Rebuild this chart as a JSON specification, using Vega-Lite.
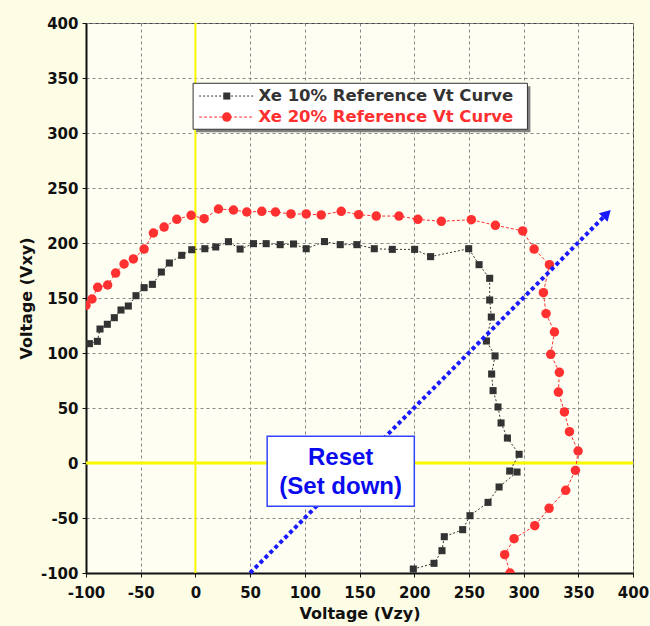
{
  "$schema": "https://vega.github.io/schema/vega-lite/v6.json",
  "autosize": {"type": "none"},
  "width": 547,
  "height": 550,
  "padding": {"left": 86, "top": 23, "right": 17, "bottom": 53},
  "background": "#fdfde6",
  "data": {"values": [{}]},
  "config": {
    "view": {"fill": "#fefef2", "stroke": "#444444", "strokeWidth": 1},
    "axis": {
      "labelFont": "DejaVu Sans", "labelFontWeight": "bold", "labelFontSize": 15, "labelColor": "#111111",
      "titleFont": "DejaVu Sans", "titleFontWeight": "bold", "titleFontSize": 16, "titleColor": "#111111",
      "domainColor": "#111111", "domainWidth": 2,
      "tickColor": "#111111", "tickWidth": 1,
      "grid": true,
      "gridColor": "#888888", "gridDash": [3, 3], "gridWidth": 1,
      "labelOverlap": false, "labelFlush": false
    }
  },
  "datasets": {
    "curves": [
      {"s": "Xe 10%", "i": 1, "x": -96.9, "y": 108.5},
      {"s": "Xe 10%", "i": 2, "x": -89.6, "y": 110.6},
      {"s": "Xe 10%", "i": 3, "x": -87.2, "y": 121.8},
      {"s": "Xe 10%", "i": 4, "x": -80.5, "y": 126.1},
      {"s": "Xe 10%", "i": 5, "x": -74.1, "y": 132.1},
      {"s": "Xe 10%", "i": 6, "x": -68.0, "y": 139.1},
      {"s": "Xe 10%", "i": 7, "x": -61.3, "y": 142.7},
      {"s": "Xe 10%", "i": 8, "x": -54.3, "y": 152.1},
      {"s": "Xe 10%", "i": 9, "x": -46.9, "y": 159.4},
      {"s": "Xe 10%", "i": 10, "x": -39.3, "y": 162.4},
      {"s": "Xe 10%", "i": 11, "x": -31.1, "y": 173.6},
      {"s": "Xe 10%", "i": 12, "x": -23.8, "y": 181.8},
      {"s": "Xe 10%", "i": 13, "x": -12.5, "y": 188.8},
      {"s": "Xe 10%", "i": 14, "x": -3.3, "y": 193.9},
      {"s": "Xe 10%", "i": 15, "x": 8.6, "y": 194.8},
      {"s": "Xe 10%", "i": 16, "x": 18.6, "y": 196.4},
      {"s": "Xe 10%", "i": 17, "x": 30.2, "y": 201.2},
      {"s": "Xe 10%", "i": 18, "x": 40.9, "y": 194.5},
      {"s": "Xe 10%", "i": 19, "x": 53.1, "y": 199.4},
      {"s": "Xe 10%", "i": 20, "x": 64.7, "y": 199.4},
      {"s": "Xe 10%", "i": 21, "x": 77.5, "y": 198.5},
      {"s": "Xe 10%", "i": 22, "x": 89.7, "y": 199.1},
      {"s": "Xe 10%", "i": 23, "x": 101.3, "y": 194.8},
      {"s": "Xe 10%", "i": 24, "x": 118.0, "y": 201.3},
      {"s": "Xe 10%", "i": 25, "x": 132.4, "y": 198.5},
      {"s": "Xe 10%", "i": 26, "x": 147.6, "y": 198.5},
      {"s": "Xe 10%", "i": 27, "x": 163.5, "y": 194.8},
      {"s": "Xe 10%", "i": 28, "x": 180.0, "y": 194.2},
      {"s": "Xe 10%", "i": 29, "x": 200.4, "y": 194.2},
      {"s": "Xe 10%", "i": 30, "x": 215.0, "y": 187.6},
      {"s": "Xe 10%", "i": 31, "x": 249.8, "y": 194.8},
      {"s": "Xe 10%", "i": 32, "x": 259.3, "y": 180.3},
      {"s": "Xe 10%", "i": 33, "x": 269.0, "y": 167.9},
      {"s": "Xe 10%", "i": 34, "x": 269.0, "y": 148.2},
      {"s": "Xe 10%", "i": 35, "x": 270.5, "y": 132.7},
      {"s": "Xe 10%", "i": 36, "x": 266.0, "y": 110.9},
      {"s": "Xe 10%", "i": 37, "x": 273.9, "y": 97.3},
      {"s": "Xe 10%", "i": 38, "x": 270.8, "y": 80.9},
      {"s": "Xe 10%", "i": 39, "x": 272.1, "y": 65.8},
      {"s": "Xe 10%", "i": 40, "x": 276.6, "y": 50.9},
      {"s": "Xe 10%", "i": 41, "x": 279.4, "y": 36.4},
      {"s": "Xe 10%", "i": 42, "x": 285.2, "y": 22.7},
      {"s": "Xe 10%", "i": 43, "x": 295.9, "y": 7.9},
      {"s": "Xe 10%", "i": 44, "x": 287.3, "y": -7.3},
      {"s": "Xe 10%", "i": 45, "x": 294.0, "y": -8.2},
      {"s": "Xe 10%", "i": 46, "x": 277.6, "y": -21.8},
      {"s": "Xe 10%", "i": 47, "x": 267.5, "y": -35.8},
      {"s": "Xe 10%", "i": 48, "x": 251.0, "y": -47.9},
      {"s": "Xe 10%", "i": 49, "x": 244.3, "y": -60.6},
      {"s": "Xe 10%", "i": 50, "x": 227.5, "y": -67.0},
      {"s": "Xe 10%", "i": 51, "x": 225.4, "y": -79.7},
      {"s": "Xe 10%", "i": 52, "x": 218.1, "y": -91.2},
      {"s": "Xe 10%", "i": 53, "x": 199.2, "y": -96.4},
      {"s": "Xe 20%", "i": 1, "x": -100.0, "y": 143.3},
      {"s": "Xe 20%", "i": 2, "x": -94.5, "y": 149.1},
      {"s": "Xe 20%", "i": 3, "x": -89.3, "y": 159.7},
      {"s": "Xe 20%", "i": 4, "x": -80.2, "y": 161.8},
      {"s": "Xe 20%", "i": 5, "x": -72.9, "y": 172.7},
      {"s": "Xe 20%", "i": 6, "x": -65.2, "y": 180.9},
      {"s": "Xe 20%", "i": 7, "x": -56.7, "y": 185.5},
      {"s": "Xe 20%", "i": 8, "x": -46.9, "y": 194.5},
      {"s": "Xe 20%", "i": 9, "x": -38.4, "y": 209.1},
      {"s": "Xe 20%", "i": 10, "x": -28.6, "y": 214.5},
      {"s": "Xe 20%", "i": 11, "x": -17.0, "y": 221.5},
      {"s": "Xe 20%", "i": 12, "x": -3.9, "y": 225.2},
      {"s": "Xe 20%", "i": 13, "x": 8.0, "y": 222.1},
      {"s": "Xe 20%", "i": 14, "x": 21.1, "y": 230.9},
      {"s": "Xe 20%", "i": 15, "x": 34.8, "y": 230.0},
      {"s": "Xe 20%", "i": 16, "x": 47.0, "y": 228.2},
      {"s": "Xe 20%", "i": 17, "x": 60.7, "y": 228.8},
      {"s": "Xe 20%", "i": 18, "x": 73.2, "y": 228.2},
      {"s": "Xe 20%", "i": 19, "x": 87.3, "y": 226.4},
      {"s": "Xe 20%", "i": 20, "x": 101.3, "y": 226.4},
      {"s": "Xe 20%", "i": 21, "x": 115.0, "y": 225.5},
      {"s": "Xe 20%", "i": 22, "x": 133.3, "y": 228.8},
      {"s": "Xe 20%", "i": 23, "x": 149.2, "y": 225.8},
      {"s": "Xe 20%", "i": 24, "x": 165.3, "y": 224.5},
      {"s": "Xe 20%", "i": 25, "x": 186.1, "y": 224.5},
      {"s": "Xe 20%", "i": 26, "x": 203.4, "y": 221.5},
      {"s": "Xe 20%", "i": 27, "x": 224.8, "y": 219.7},
      {"s": "Xe 20%", "i": 28, "x": 252.2, "y": 221.2},
      {"s": "Xe 20%", "i": 29, "x": 274.2, "y": 216.1},
      {"s": "Xe 20%", "i": 30, "x": 299.2, "y": 211.0},
      {"s": "Xe 20%", "i": 31, "x": 309.6, "y": 194.5},
      {"s": "Xe 20%", "i": 32, "x": 323.6, "y": 180.3},
      {"s": "Xe 20%", "i": 33, "x": 318.1, "y": 154.8},
      {"s": "Xe 20%", "i": 34, "x": 320.5, "y": 135.8},
      {"s": "Xe 20%", "i": 35, "x": 328.2, "y": 119.1},
      {"s": "Xe 20%", "i": 36, "x": 324.8, "y": 98.8},
      {"s": "Xe 20%", "i": 37, "x": 332.7, "y": 82.4},
      {"s": "Xe 20%", "i": 38, "x": 331.8, "y": 64.5},
      {"s": "Xe 20%", "i": 39, "x": 337.3, "y": 46.4},
      {"s": "Xe 20%", "i": 40, "x": 341.9, "y": 28.5},
      {"s": "Xe 20%", "i": 41, "x": 349.8, "y": 10.9},
      {"s": "Xe 20%", "i": 42, "x": 347.4, "y": -6.7},
      {"s": "Xe 20%", "i": 43, "x": 338.5, "y": -24.8},
      {"s": "Xe 20%", "i": 44, "x": 323.3, "y": -41.2},
      {"s": "Xe 20%", "i": 45, "x": 310.2, "y": -57.0},
      {"s": "Xe 20%", "i": 46, "x": 291.3, "y": -68.8},
      {"s": "Xe 20%", "i": 47, "x": 282.7, "y": -83.3},
      {"s": "Xe 20%", "i": 48, "x": 287.6, "y": -100.0}
    ],
    "arrow": [
      {"x": 50, "y": -100, "x2": 374.5, "y2": 225.0}
    ],
    "arrowhead": [
      {"x": 376.2, "y": 226.6}
    ],
    "legend": [
      {"s": "Xe 10%", "label": "Xe 10% Reference Vt Curve", "y": 333.6},
      {"s": "Xe 20%", "label": "Xe 20% Reference Vt Curve", "y": 314.5}
    ],
    "note": [
      {"label": "Reset", "y": 4.7},
      {"label": "(Set down)", "y": -21.8}
    ]
  },
  "layer": [
    {
      "mark": {"type": "rule", "color": "#f8f800", "strokeWidth": 2},
      "encoding": {
        "x": {
          "datum": 0, "type": "quantitative",
          "scale": {"domain": [-100, 400], "nice": false, "zero": false},
          "axis": {
            "title": "Voltage (Vzy)",
            "values": [-100, -87.5, -75, -62.5, -50, -37.5, -25, -12.5, 0, 12.5, 25, 37.5, 50, 62.5, 75, 87.5, 100, 112.5, 125, 137.5, 150, 162.5, 175, 187.5, 200, 212.5, 225, 237.5, 250, 262.5, 275, 287.5, 300, 312.5, 325, 337.5, 350, 362.5, 375, 387.5, 400],
            "labelExpr": "datum.value % 50 === 0 ? '' + datum.value : ''",
            "tickSize": {"condition": {"test": "datum.value % 50 === 0", "value": 4}, "value": -4},
            "gridOpacity": {"condition": {"test": "datum.value % 50 === 0", "value": 1}, "value": 0},
            "labelPadding": 8,
            "titlePadding": 5
          }
        },
        "y": {"value": 0},
        "y2": {"value": 550}
      }
    },
    {
      "mark": {"type": "rule", "color": "#f8f800", "strokeWidth": 3},
      "encoding": {
        "y": {
          "datum": 0, "type": "quantitative",
          "scale": {"domain": [-100, 400], "nice": false, "zero": false},
          "axis": {
            "title": "Voltage (Vxy)",
            "values": [-100, -87.5, -75, -62.5, -50, -37.5, -25, -12.5, 0, 12.5, 25, 37.5, 50, 62.5, 75, 87.5, 100, 112.5, 125, 137.5, 150, 162.5, 175, 187.5, 200, 212.5, 225, 237.5, 250, 262.5, 275, 287.5, 300, 312.5, 325, 337.5, 350, 362.5, 375, 387.5, 400],
            "labelExpr": "datum.value % 50 === 0 ? '' + datum.value : ''",
            "tickSize": {"condition": {"test": "datum.value % 50 === 0", "value": 4}, "value": -4},
            "gridOpacity": {"condition": {"test": "datum.value % 50 === 0", "value": 1}, "value": 0},
            "labelPadding": 4,
            "titlePadding": 6
          }
        },
        "x": {"value": 0},
        "x2": {"value": 547}
      }
    },
    {
      "data": {"name": "curves"},
      "mark": {"type": "line", "strokeWidth": 1},
      "encoding": {
        "x": {"field": "x", "type": "quantitative"},
        "y": {"field": "y", "type": "quantitative"},
        "order": {"field": "i"},
        "color": {"field": "s", "type": "nominal", "scale": {"domain": ["Xe 10%", "Xe 20%"], "range": ["#333333", "#ff3030"]}, "legend": null},
        "strokeDash": {"field": "s", "type": "nominal", "scale": {"domain": ["Xe 10%", "Xe 20%"], "range": [[2, 2], [3, 2]]}, "legend": null}
      }
    },
    {
      "data": {"name": "curves"},
      "mark": {"type": "point", "filled": true, "opacity": 1, "clip": true},
      "encoding": {
        "x": {"field": "x", "type": "quantitative"},
        "y": {"field": "y", "type": "quantitative"},
        "color": {"field": "s", "type": "nominal", "scale": {"domain": ["Xe 10%", "Xe 20%"], "range": ["#000000", "#ff0000"]}, "legend": null},
        "shape": {"field": "s", "type": "nominal", "scale": {"domain": ["Xe 10%", "Xe 20%"], "range": ["square", "circle"]}, "legend": null},
        "size": {"field": "s", "type": "nominal", "scale": {"domain": ["Xe 10%", "Xe 20%"], "range": [50, 90]}, "legend": null}
      }
    },
    {
      "data": {"name": "arrow"},
      "mark": {"type": "rule", "color": "#1a1aff", "strokeWidth": 4, "strokeDash": [4, 3]},
      "encoding": {
        "x": {"field": "x", "type": "quantitative"},
        "y": {"field": "y", "type": "quantitative"},
        "x2": {"field": "x2"},
        "y2": {"field": "y2"}
      }
    },
    {
      "data": {"name": "arrowhead"},
      "mark": {"type": "point", "shape": "triangle-up", "filled": true, "opacity": 1, "color": "#1a1aff", "size": 150, "angle": 45},
      "encoding": {
        "x": {"field": "x", "type": "quantitative"},
        "y": {"field": "y", "type": "quantitative"}
      }
    },
    {
      "mark": {"type": "rect", "fill": "#ffffff", "stroke": "#3344ff", "strokeWidth": 1.5},
      "encoding": {
        "x": {"datum": 65.6, "type": "quantitative"},
        "x2": {"datum": 200.1},
        "y": {"datum": 24.3, "type": "quantitative"},
        "y2": {"datum": -39.4}
      }
    },
    {
      "data": {"name": "note"},
      "mark": {"type": "text", "font": "Liberation Sans", "fontWeight": "bold", "fontSize": 24, "color": "#0a0aee", "align": "center", "baseline": "middle"},
      "encoding": {
        "x": {"datum": 132.8, "type": "quantitative"},
        "y": {"field": "y", "type": "quantitative"},
        "text": {"field": "label"}
      }
    },
    {
      "mark": {"type": "rect", "fill": "#808080"},
      "encoding": {
        "x": {"datum": 0.6, "type": "quantitative"},
        "x2": {"datum": 306.2},
        "y": {"datum": 342.5, "type": "quantitative"},
        "y2": {"datum": 300.7}
      }
    },
    {
      "mark": {"type": "rect", "fill": "#ffffff", "stroke": "#333333", "strokeWidth": 1},
      "encoding": {
        "x": {"datum": -2.1, "type": "quantitative"},
        "x2": {"datum": 303.5},
        "y": {"datum": 345.2, "type": "quantitative"},
        "y2": {"datum": 303.4}
      }
    },
    {
      "data": {"name": "legend"},
      "mark": {"type": "rule", "strokeWidth": 1},
      "encoding": {
        "x": {"datum": 3.4, "type": "quantitative"},
        "x2": {"datum": 52.8},
        "y": {"field": "y", "type": "quantitative"},
        "color": {"field": "s", "type": "nominal", "scale": {"domain": ["Xe 10%", "Xe 20%"], "range": ["#333333", "#ff3030"]}, "legend": null},
        "strokeDash": {"field": "s", "type": "nominal", "scale": {"domain": ["Xe 10%", "Xe 20%"], "range": [[2, 2], [3, 2]]}, "legend": null}
      }
    },
    {
      "data": {"name": "legend"},
      "mark": {"type": "point", "filled": true, "opacity": 1},
      "encoding": {
        "x": {"datum": 28.7, "type": "quantitative"},
        "y": {"field": "y", "type": "quantitative"},
        "color": {"field": "s", "type": "nominal", "scale": {"domain": ["Xe 10%", "Xe 20%"], "range": ["#000000", "#ff0000"]}, "legend": null},
        "shape": {"field": "s", "type": "nominal", "scale": {"domain": ["Xe 10%", "Xe 20%"], "range": ["square", "circle"]}, "legend": null},
        "size": {"field": "s", "type": "nominal", "scale": {"domain": ["Xe 10%", "Xe 20%"], "range": [36, 64]}, "legend": null}
      }
    },
    {
      "data": {"name": "legend"},
      "mark": {"type": "text", "font": "DejaVu Sans", "fontWeight": "bold", "fontSize": 16.5, "align": "left", "baseline": "middle"},
      "encoding": {
        "x": {"datum": 57.6, "type": "quantitative"},
        "y": {"field": "y", "type": "quantitative"},
        "text": {"field": "label"},
        "color": {"field": "s", "type": "nominal", "scale": {"domain": ["Xe 10%", "Xe 20%"], "range": ["#111111", "#ff1010"]}, "legend": null}
      }
    }
  ]
}
